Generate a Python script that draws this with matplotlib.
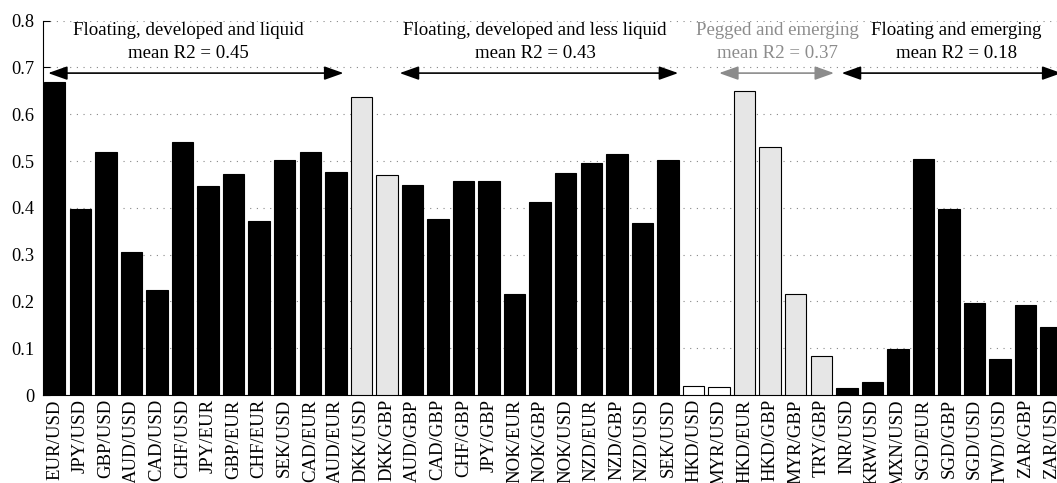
import numpy as np
import matplotlib
matplotlib.use("Agg")
import matplotlib.pyplot as plt

# currency pairs and R2 values
pairs = ["EUR/USD", "JPY/USD", "GBP/USD", "AUD/USD", "CAD/USD", "CHF/USD",
         "JPY/EUR", "GBP/EUR", "CHF/EUR", "SEK/USD", "CAD/EUR", "AUD/EUR",
         "DKK/USD", "DKK/GBP", "AUD/GBP", "CAD/GBP", "CHF/GBP", "JPY/GBP",
         "NOK/EUR", "NOK/GBP", "NOK/USD", "NZD/EUR", "NZD/GBP", "NZD/USD",
         "SEK/USD", "HKD/USD", "MYR/USD", "HKD/EUR", "HKD/GBP", "MYR/GBP",
         "TRY/GBP", "INR/USD", "KRW/USD", "MXN/USD", "SGD/EUR", "SGD/GBP",
         "SGD/USD", "TWD/USD", "ZAR/GBP", "ZAR/USD"]
r2 = [0.670, 0.398, 0.520, 0.305, 0.225, 0.541,
      0.446, 0.472, 0.372, 0.503, 0.520, 0.476,
      0.637, 0.471, 0.449, 0.377, 0.457, 0.458,
      0.215, 0.413, 0.475, 0.496, 0.515, 0.368,
      0.503, 0.020, 0.018, 0.650, 0.530, 0.215,
      0.083, 0.015, 0.028, 0.099, 0.505, 0.398,
      0.197, 0.077, 0.192, 0.145]
# bar fill: 'k' floating, 'g' light grey, 'w' white
fills = ["k"] * 12 + ["g", "g"] + ["k"] * 11 + ["w", "w", "g", "g", "g", "g"] + ["k"] * 9

groups = ["Floating, developed and liquid\nmean R2 = 0.45",
          "Floating, developed and less liquid\nmean R2 = 0.43",
          "Pegged and emerging\nmean R2 = 0.37",
          "Floating and emerging\nmean R2 = 0.18"]
group_span = [(0.74, 12.3), (14.5, 25.4), (27.0, 31.5), (31.8, 40.4)]
group_text_x = [6.23, 19.8, 29.3, 36.3]
group_col = ["k", "k", "#8c8c8c", "k"]

plt.rcParams['font.family'] = ["Liberation Serif", "DejaVu Serif"]
plt.rcParams['font.size'] = 13

fig = plt.figure(figsize=(10.57, 4.83), dpi=100)
ax = fig.add_axes([43/1057, 1 - 395/483, 1021/1057, (395 - 20.7)/483])

colmap = {"k": "black", "g": "#e6e6e6", "w": "white"}
x = np.arange(1, len(pairs) + 1)
ax.bar(x, r2, width=0.84, color=[colmap[f] for f in fills],
       edgecolor="black", linewidth=0.8, zorder=3)

ax.set_xlim(0.54, 40.5)
ax.set_ylim(0, 0.8)
ax.set_yticks(np.arange(0, 0.81, 0.1))
ax.set_yticklabels(["0", "0.1", "0.2", "0.3", "0.4", "0.5", "0.6", "0.7", "0.8"])
ax.set_xticks(x)
ax.set_xticklabels(pairs, rotation=90)
ax.tick_params(axis="y", direction="in", length=5, labelsize=13.2, pad=6)
ax.tick_params(axis="x", length=0, labelsize=13.5, pad=3)
ax.yaxis.grid(True, linestyle=(0, (1, 5)), color="#888888", linewidth=0.8)
ax.set_axisbelow(True)
ax.spines["top"].set_visible(False)
ax.spines["right"].set_visible(False)

for txt, (x0, x1), tx, c in zip(groups, group_span, group_text_x, group_col):
    ax.annotate("", xy=(x1, 0.688), xytext=(x0, 0.688),
                arrowprops=dict(arrowstyle="<|-|>,head_length=0.9,head_width=0.32",
                                color=c, lw=1.2, shrinkA=0, shrinkB=0))
    ax.text(tx, 0.755, txt, ha="center", va="center", color=c,
            fontsize=13.6, linespacing=1.45)

fig.savefig("out.png", dpi=100)
